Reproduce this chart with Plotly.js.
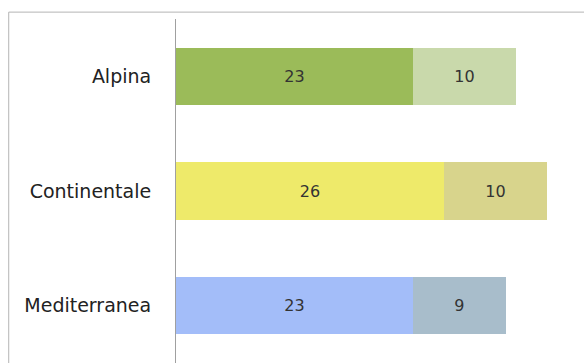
<!DOCTYPE html>
<html><head><meta charset="utf-8">
<script src="https://cdn.plot.ly/plotly-3.0.1.min.js"></script>
<style>html,body{margin:0;padding:0;background:#fff;overflow:hidden}#chart{width:584px;height:363px}</style>
</head><body><div id="chart"></div>
<script>
const categories = ['Alpina', 'Continentale', 'Mediterranea'];
const firstValues = [23, 26, 23];
const secondValues = [10, 10, 9];
const firstColors = ['#9bbb59', '#eeea6a', '#a3bdf9'];
const secondColors = ['#c9d9ab', '#d8d48c', '#a8bdcb'];

const traces = [
  {
    type: 'bar', orientation: 'h', y: categories, x: firstValues,
    marker: {color: firstColors, line: {width: 0}},
    text: firstValues.map(String), textposition: 'inside', insidetextanchor: 'middle',
    textfont: {family: 'DejaVu Sans, sans-serif', size: 16, color: '#333333'},
    hoverinfo: 'none', width: 0.5
  },
  {
    type: 'bar', orientation: 'h', y: categories, x: secondValues,
    marker: {color: secondColors, line: {width: 0}},
    text: secondValues.map(String), textposition: 'inside', insidetextanchor: 'middle',
    textfont: {family: 'DejaVu Sans, sans-serif', size: 16, color: '#333333'},
    hoverinfo: 'none', width: 0.5
  }
];

const layout = {
  width: 584, height: 363,
  margin: {l: 176, r: 0, t: 19, b: 0, pad: 0},
  barmode: 'stack',
  showlegend: false,
  paper_bgcolor: '#ffffff', plot_bgcolor: '#ffffff',
  xaxis: {range: [0, 39.6], showgrid: false, zeroline: false, showticklabels: false, ticks: '', showline: false, fixedrange: true},
  yaxis: {autorange: 'reversed', range: [2.5, -0.5], showgrid: false, zeroline: false, ticks: '',
    showline: true, linecolor: '#a0a0a0', linewidth: 1, ticklabelstandoff: 20,
    tickfont: {family: 'DejaVu Sans, sans-serif', size: 19, color: '#222222'}, fixedrange: true},
  shapes: [{type: 'rect', xref: 'paper', yref: 'paper', x0: -0.41, x1: 1.1, y0: -0.1, y1: 1.02,
    line: {color: '#b4b4b4', width: 1}, fillcolor: 'rgba(0,0,0,0)', layer: 'below'}]
};

Plotly.newPlot('chart', traces, layout, {staticPlot: true, displayModeBar: false});
</script></body></html>
